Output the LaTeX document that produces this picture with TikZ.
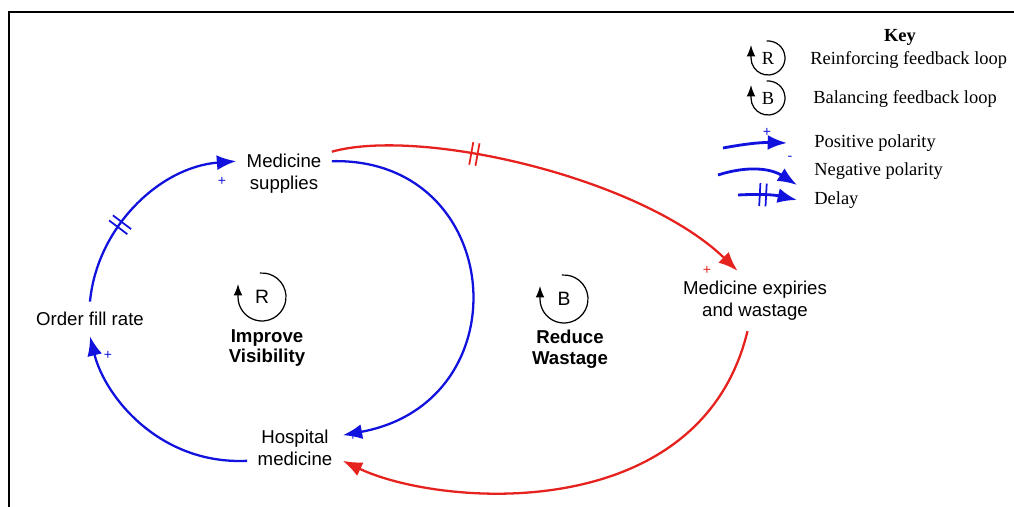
\documentclass[tikz,border=0pt]{standalone}
\usepackage{fontspec}
\setmainfont{Liberation Serif}
\setsansfont{Liberation Sans}
\usetikzlibrary{arrows.meta,decorations.markings,calc}
\definecolor{loopBlue}{RGB}{18,18,222}
\definecolor{loopRed}{RGB}{230,34,30}
\newcommand{\looparc}[2]{\draw[line width=0.7pt,-{Latex[length=6.5pt,width=5pt]}] ([shift={(95:#2)}]#1) arc[start angle=95,end angle=-180,radius=#2] -- ++(0,0.26cm);}

\begin{document}
\begin{tikzpicture}[x=0.02cm,y=0.02cm,
    var/.style={font=\sffamily\fontsize{10.6}{12.5}\selectfont,align=center,inner sep=3pt,outer sep=3pt},
    loopname/.style={font=\sffamily\bfseries\fontsize{10.6}{11.8}\selectfont,align=center},
    link/.style={line width=1.3pt,-{Latex[length=11pt,width=8.5pt]}},
    keylink/.style={line width=1.6pt,-{Latex[length=11pt,width=8.5pt]}},
    delay/.style={postaction={decorate,decoration={markings,mark=at position #1 with {\draw[-,line width=1pt] (-1.8pt,-6.5pt) -- (-1.8pt,6.5pt) (1.8pt,-6.5pt) -- (1.8pt,6.5pt);}}}},
    sign/.style={font=\sffamily\fontsize{8}{8}\selectfont,inner sep=0pt},
    keytext/.style={font=\fontsize{10.5}{12}\selectfont,anchor=west,inner sep=0pt}]
    \useasboundingbox (0,0) rectangle (1014,507);
    \draw[line width=1.2pt] (9,-10) -- (9,495) -- (1030,495);

    \node[var] (sup) at (284,333) {Medicine\\supplies};
    \node[var] (ofr) at (90,188) {Order fill rate};
    \node[var] (hosp) at (295,59) {Hospital\\medicine};
    \node[var] (exp) at (755,206) {Medicine expiries\\and wastage};

    \draw[link,loopBlue,delay=0.38] (ofr.north) .. controls (97,280) and (160,340) .. (sup.165);
    \draw[link,loopBlue] (sup.15) .. controls (505,350) and (525,105) .. (hosp.15);
    \draw[link,loopBlue] (hosp.195) .. controls (160,42) and (105,110) .. (ofr.south);
    \draw[link,loopRed,delay=0.33] (sup.25) .. controls (420,380) and (640,330) .. (exp.120);
    \draw[link,loopRed] (exp.256) .. controls (700,-20) and (440,0) .. (hosp.-15);

    \node[sign,text=loopBlue] (s1) at (222,326) {+};
    \node[sign,text=loopBlue] (s2) at (353,71) {+};
    \node[sign,text=loopBlue] (s3) at (108,152) {+};
    \node[sign,text=loopRed] (s4) at (707,237) {+};
    \node[sign,text=loopRed] (s5) at (355,42) {-};

    \node[font=\sffamily\fontsize{11}{11}\selectfont] (loopR) at (262,210) {R};
    \looparc{loopR.center}{0.48cm}
    \node[loopname] (nameR) at (267,159) {Improve\\Visibility};
    \node[font=\sffamily\fontsize{11}{11}\selectfont] (loopB) at (564,208) {B};
    \looparc{loopB.center}{0.48cm}
    \node[loopname] (nameB) at (570,158) {Reduce\\Wastage};

    \node[font=\bfseries\fontsize{10.5}{12}\selectfont] (key) at (900,470) {Key};
    \node[font=\fontsize{10.5}{12}\selectfont] (keyR) at (768,449) {R};
    \looparc{keyR.center}{0.34cm}
    \node[keytext] (txtR) at (810,447) {Reinforcing feedback loop};
    \node[font=\fontsize{10.5}{12}\selectfont] (keyB) at (768,409) {B};
    \looparc{keyB.center}{0.34cm}
    \node[keytext] (txtB) at (813,408) {Balancing feedback loop};

    \coordinate (kp1) at (723,359);
    \coordinate (kp2) at (787,364);
    \draw[keylink,loopBlue] (kp1) to[bend left=6] (kp2);
    \node[sign,text=loopBlue] (kps) at (767,375) {+};
    \node[keytext] (txtP) at (814,364) {Positive polarity};

    \coordinate (kn1) at (718,332);
    \coordinate (kn2) at (797,322);
    \draw[keylink,loopBlue] (kn1) to[bend left=25] (kn2);
    \node[sign,text=loopBlue] (kns) at (790,349) {-};
    \node[keytext] (txtN) at (814,336) {Negative polarity};

    \coordinate (kd1) at (738,312);
    \coordinate (kd2) at (797,307);
    \draw[keylink,loopBlue,delay=0.42] (kd1) to[bend left=8] (kd2);
    \node[keytext] (txtD) at (814,307) {Delay};
\end{tikzpicture}
\end{document}
